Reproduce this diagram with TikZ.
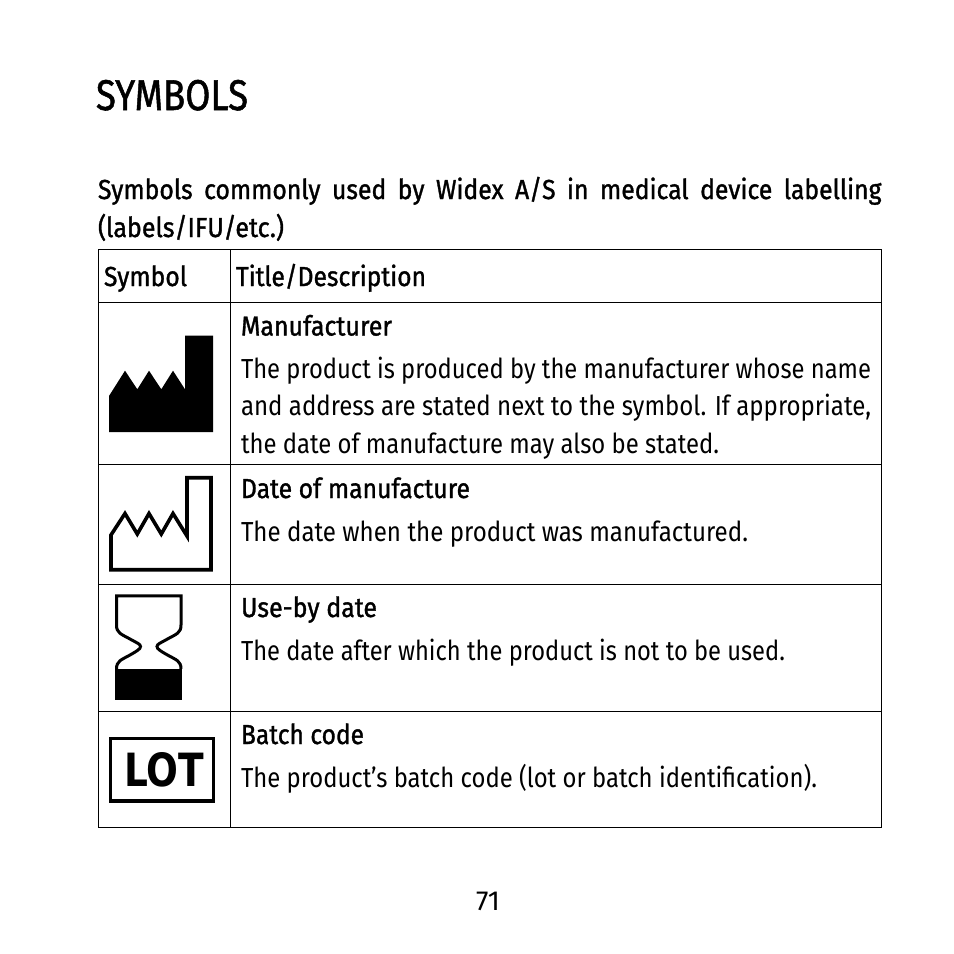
\documentclass[tikz,border=0pt]{standalone}
\usepackage{fontspec}
\setmainfont{Fira Sans}
\newfontfamily\headfont[FakeBold=1.3]{Fira Sans}
\newfontfamily\lotfont{DejaVu Sans}
\tikzset{
  px/.style={x=1pt,y=-1pt},
  rule/.style={draw=black,line width=0.9pt},
  lab/.style={anchor=base west,inner sep=0pt,outer sep=0pt,text=black,font=\fontsize{27.5}{30}\selectfont},
  head/.style={lab,font=\headfont\fontsize{27.5}{30}\selectfont},
  sym/.style={draw=black,line width=3.6pt,miter limit=10,fill=none}
}
\newcommand{\fitw}[2]{\resizebox{#1pt}{\height}{#2}}
\begin{document}
\begin{tikzpicture}[px]
\useasboundingbox (0,0) rectangle (954,954);
\fill[white] (0,0) rectangle (954,954);
\node[head,font=\headfont\fontsize{43}{45}\selectfont] (title) at (96,110) {\fitw{152}{SYMBOLS}};
\node[head] (i1) at (98,199) {\fitw{783.5}{\hbox to 870pt{Symbols\hfill commonly\hfill used\hfill by\hfill Widex\hfill A/S\hfill in\hfill medical\hfill device\hfill labelling}}};
\node[head] (i2) at (98,237) {\fitw{186}{(labels/IFU/etc.)}};
\draw[rule] (98.5,249.5) rectangle (881.5,827.5);
\draw[rule] (98.5,302.5) -- (881.5,302.5);
\draw[rule] (98.5,464.5) -- (881.5,464.5);
\draw[rule] (98.5,584.5) -- (881.5,584.5);
\draw[rule] (98.5,711.5) -- (881.5,711.5);
\draw[rule] (230.5,249.5) -- (230.5,827.5);
\node[head] (h1) at (104,286) {\fitw{83}{Symbol}};
\node[head] (h2) at (236,286) {\fitw{190}{Title/Description}};
\node[head] (a1) at (241,335.5) {\fitw{151}{Manufacturer}};
\node[lab] (a2) at (241,378.5) {\fitw{630}{The product is produced by the manufacturer whose name}};
\node[lab] (a3) at (241,415.5) {\fitw{630}{and address are stated next to the symbol. If appropriate,}};
\node[lab] (a4) at (241,453) {\fitw{478}{the date of manufacture may also be stated.}};
\node[head] (b1) at (241,498) {\fitw{229}{Date of manufacture}};
\node[lab] (b2) at (241,541.5) {\fitw{507}{The date when the product was manufactured.}};
\node[head] (c1) at (241,617) {\fitw{136}{Use-by date}};
\node[lab] (c2) at (241,660.5) {\fitw{544}{The date after which the product is not to be used.}};
\node[head] (d1) at (241,744) {\fitw{123}{Batch code}};
\node[lab] (d2) at (241,787.5) {\fitw{576}{The product’s batch code (lot or batch identification).}};
\node[lab] (pg) at (476,910.5) {\fitw{24}{71}};
% filled factory
\fill[black] (109,432) -- (109,396) -- (125,370.7) -- (137.3,389.3) -- (149,370.7) -- (161.3,389.3) -- (173,370.7) -- (185,389.3) -- (185,335.7) -- (213,335.7) -- (213,432) -- cycle;
% outline factory
\draw[sym] (111,569.7) -- (111,535) -- (125,513.5) -- (137.3,534) -- (149,513.5) -- (161.3,534) -- (173,513.5) -- (187,536) -- (187,477.7) -- (211,477.7) -- (211,569.7) -- cycle;
% hourglass
\draw[draw=black,line width=3pt,line join=miter] (116.5,669) .. controls (116.5,661) and (121,660) .. (130,655) .. controls (137,651) and (140.5,649) .. (140.5,646.5) .. controls (140.5,644) and (137,643) .. (130,639) .. controls (121,634) and (116.5,633) .. (116.5,625) -- (116.5,595.8) -- (181,595.8) -- (181,625) .. controls (181,633) and (176.5,634) .. (167.5,639) .. controls (160.5,643) and (157,644) .. (157,646.5) .. controls (157,649) and (160.5,651) .. (167.5,655) .. controls (176.5,660) and (181,661) .. (181,669);
\fill[black] (115,669.3) rectangle (182.3,700.3);
% lot
\draw[sym,line width=3.3pt] (110.7,738.4) rectangle (213.6,801);
\node[anchor=center,inner sep=0pt,font=\lotfont\bfseries\fontsize{46}{48}\selectfont] (lot) at (164.3,769.7) {\resizebox{80pt}{34pt}{LOT}};
\end{tikzpicture}
\end{document}
